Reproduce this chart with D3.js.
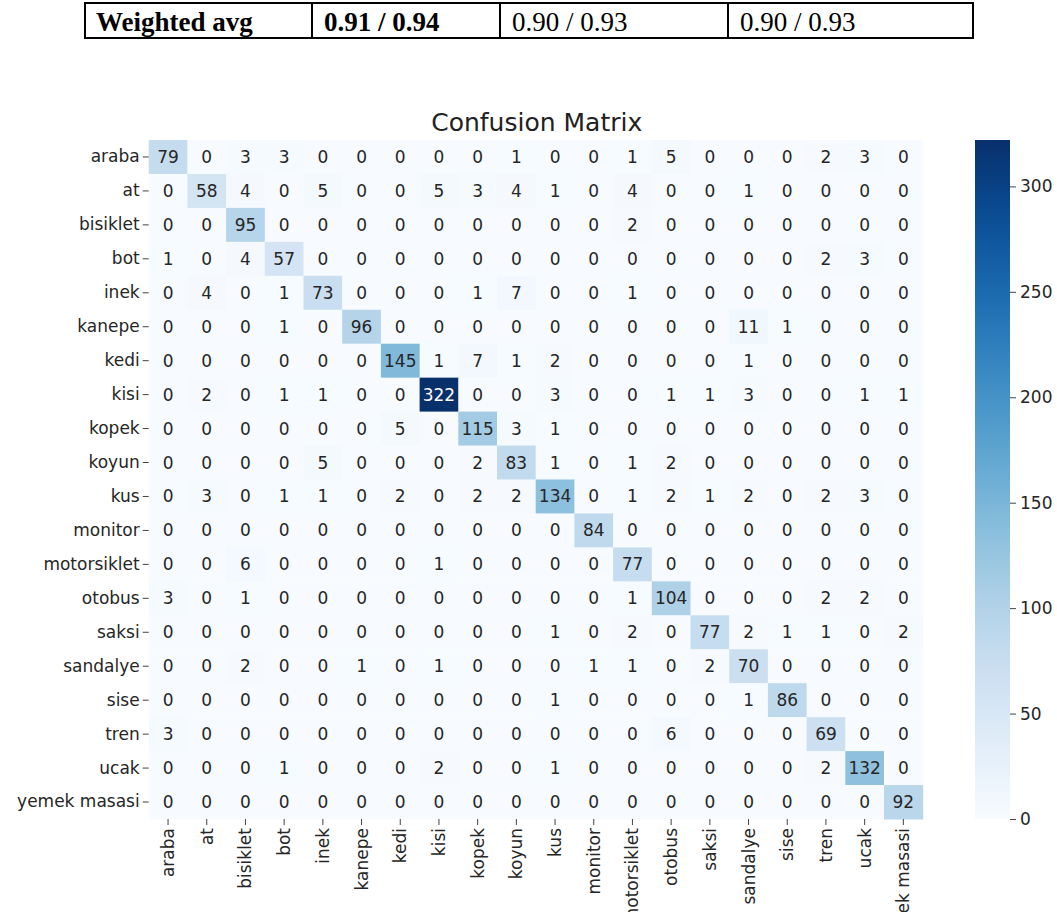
<!DOCTYPE html>
<html>
<head>
<meta charset="utf-8">
<script src="https://cdn.jsdelivr.net/npm/d3@7"></script>
<style>
  body { margin: 0; background: #fff; }
  svg { display: block; }
</style>
</head>
<body>
<div id="chart"></div>
<script>
// table row above the chart
const tableCells = ["Weighted avg", "0.91 / 0.94", "0.90 / 0.93", "0.90 / 0.93"];
const tableBold = [true, true, false, false];

// class names (rows = true, cols = predicted)
const classes = ["araba", "at", "bisiklet", "bot", "inek", "kanepe", "kedi", "kisi", "kopek", "koyun",
  "kus", "monitor", "motorsiklet", "otobus", "saksi", "sandalye", "sise", "tren", "ucak", "yemek masasi"];

const matrix = [
  [79, 0, 3, 3, 0, 0, 0, 0, 0, 1, 0, 0, 1, 5, 0, 0, 0, 2, 3, 0],
  [0, 58, 4, 0, 5, 0, 0, 5, 3, 4, 1, 0, 4, 0, 0, 1, 0, 0, 0, 0],
  [0, 0, 95, 0, 0, 0, 0, 0, 0, 0, 0, 0, 2, 0, 0, 0, 0, 0, 0, 0],
  [1, 0, 4, 57, 0, 0, 0, 0, 0, 0, 0, 0, 0, 0, 0, 0, 0, 2, 3, 0],
  [0, 4, 0, 1, 73, 0, 0, 0, 1, 7, 0, 0, 1, 0, 0, 0, 0, 0, 0, 0],
  [0, 0, 0, 1, 0, 96, 0, 0, 0, 0, 0, 0, 0, 0, 0, 11, 1, 0, 0, 0],
  [0, 0, 0, 0, 0, 0, 145, 1, 7, 1, 2, 0, 0, 0, 0, 1, 0, 0, 0, 0],
  [0, 2, 0, 1, 1, 0, 0, 322, 0, 0, 3, 0, 0, 1, 1, 3, 0, 0, 1, 1],
  [0, 0, 0, 0, 0, 0, 5, 0, 115, 3, 1, 0, 0, 0, 0, 0, 0, 0, 0, 0],
  [0, 0, 0, 0, 5, 0, 0, 0, 2, 83, 1, 0, 1, 2, 0, 0, 0, 0, 0, 0],
  [0, 3, 0, 1, 1, 0, 2, 0, 2, 2, 134, 0, 1, 2, 1, 2, 0, 2, 3, 0],
  [0, 0, 0, 0, 0, 0, 0, 0, 0, 0, 0, 84, 0, 0, 0, 0, 0, 0, 0, 0],
  [0, 0, 6, 0, 0, 0, 0, 1, 0, 0, 0, 0, 77, 0, 0, 0, 0, 0, 0, 0],
  [3, 0, 1, 0, 0, 0, 0, 0, 0, 0, 0, 0, 1, 104, 0, 0, 0, 2, 2, 0],
  [0, 0, 0, 0, 0, 0, 0, 0, 0, 0, 1, 0, 2, 0, 77, 2, 1, 1, 0, 2],
  [0, 0, 2, 0, 0, 1, 0, 1, 0, 0, 0, 1, 1, 0, 2, 70, 0, 0, 0, 0],
  [0, 0, 0, 0, 0, 0, 0, 0, 0, 0, 1, 0, 0, 0, 0, 1, 86, 0, 0, 0],
  [3, 0, 0, 0, 0, 0, 0, 0, 0, 0, 0, 0, 0, 6, 0, 0, 0, 69, 0, 0],
  [0, 0, 0, 1, 0, 0, 0, 2, 0, 0, 1, 0, 0, 0, 0, 0, 0, 2, 132, 0],
  [0, 0, 0, 0, 0, 0, 0, 0, 0, 0, 0, 0, 0, 0, 0, 0, 0, 0, 0, 92]
];

const cbTicks = [0, 50, 100, 150, 200, 250, 300];

const W = 1057, H = 912;
const svg = d3.select("#chart").append("svg")
  .attr("width", W).attr("height", H)
  .style("font-family", "'DejaVu Sans', sans-serif");

// ---- table ----
const tEdges = [85, 312, 500, 728, 973];
const tTop = 3, tBot = 38;
const tbl = svg.append("g");
tbl.append("rect")
  .attr("x", tEdges[0]).attr("y", tTop)
  .attr("width", tEdges[4] - tEdges[0]).attr("height", tBot - tTop)
  .attr("fill", "none").attr("stroke", "#000").attr("stroke-width", 2);
tbl.selectAll(".div").data(tEdges.slice(1, 4)).enter().append("line")
  .attr("x1", d => d).attr("x2", d => d)
  .attr("y1", tTop).attr("y2", tBot)
  .attr("stroke", "#000").attr("stroke-width", 2);
tbl.selectAll(".cell").data(tableCells).enter().append("text")
  .attr("x", (d, i) => tEdges[i] + (i == 0 ? 11 : 12))
  .attr("y", 31)
  .style("font-family", "'Liberation Serif', 'Times New Roman', serif")
  .style("font-size", "27px")
  .style("font-weight", (d, i) => tableBold[i] ? "bold" : "normal")
  .text(d => d);

// ---- heatmap ----
const mLeft = 148.7, mTop = 140, cw = 38.7, ch = 33.95;
const n = classes.length;

const x = d3.scaleBand().domain(classes).range([mLeft, mLeft + cw * n]);
const y = d3.scaleBand().domain(classes).range([mTop, mTop + ch * n]);
const vmax = d3.max(matrix.flat());
const color = d3.scaleSequential(d3.interpolateBlues).domain([0, vmax]);

svg.append("text")
  .attr("x", mLeft + cw * n / 2 + 1).attr("y", 131)
  .attr("text-anchor", "middle")
  .style("font-size", "25px").style("fill", "#222")
  .text("Confusion Matrix");

const cells = [];
matrix.forEach((row, i) => row.forEach((v, j) => cells.push({ r: classes[i], c: classes[j], v: v })));

const g = svg.append("g");
g.selectAll("rect").data(cells).enter().append("rect")
  .attr("x", d => x(d.c)).attr("y", d => y(d.r))
  .attr("width", x.bandwidth() + 0.5).attr("height", y.bandwidth() + 0.5)
  .attr("fill", d => color(d.v));

function lum(c) {
  const rgb = d3.rgb(c);
  const f = v => { v /= 255; return v <= 0.03928 ? v / 12.92 : Math.pow((v + 0.055) / 1.055, 2.4); };
  return 0.2126 * f(rgb.r) + 0.7152 * f(rgb.g) + 0.0722 * f(rgb.b);
}

g.selectAll("text").data(cells).enter().append("text")
  .attr("x", d => x(d.c) + x.bandwidth() / 2)
  .attr("y", d => y(d.r) + y.bandwidth() / 2)
  .attr("text-anchor", "middle").attr("dominant-baseline", "central")
  .style("font-size", "17px")
  .style("fill", d => lum(color(d.v)) > 0.408 ? "#262626" : "#fff")
  .text(d => d.v);

// axes
const yAxis = svg.append("g")
  .attr("transform", `translate(${mLeft},0)`)
  .call(d3.axisLeft(y).tickSize(6).tickPadding(3));
const xAxis = svg.append("g")
  .attr("transform", `translate(0,${mTop + ch * n})`)
  .call(d3.axisBottom(x).tickSize(6).tickPadding(3));
[yAxis, xAxis].forEach(a => {
  a.select(".domain").remove();
  a.selectAll("line").attr("stroke", "#444");
  a.selectAll("text").style("font-size", "17px").style("fill", "#262626")
    .style("font-family", "'DejaVu Sans', sans-serif");
});
xAxis.selectAll("text")
  .attr("transform", "rotate(-90)")
  .attr("text-anchor", "end")
  .attr("dy", "0.35em")
  .attr("x", -9).attr("y", 0);

// ---- colorbar ----
const cbX = 975, cbW = 35;
const cbY = d3.scaleLinear().domain([0, vmax]).range([mTop + ch * n, mTop]);
const grad = svg.append("defs").append("linearGradient")
  .attr("id", "cbgrad").attr("x1", 0).attr("y1", 1).attr("x2", 0).attr("y2", 0);
d3.range(0, 1.0001, 0.05).forEach(t => {
  grad.append("stop").attr("offset", t).attr("stop-color", color(t * vmax));
});
svg.append("rect")
  .attr("x", cbX).attr("y", mTop)
  .attr("width", cbW).attr("height", ch * n)
  .attr("fill", "url(#cbgrad)");
const cbAxis = svg.append("g")
  .attr("transform", `translate(${cbX + cbW},0)`)
  .call(d3.axisRight(cbY).tickValues(cbTicks).tickSize(6).tickPadding(4));
cbAxis.select(".domain").remove();
cbAxis.selectAll("line").attr("stroke", "#444");
cbAxis.selectAll("text").style("font-size", "17px").style("fill", "#262626")
  .style("font-family", "'DejaVu Sans', sans-serif");
</script>
</body>
</html>
